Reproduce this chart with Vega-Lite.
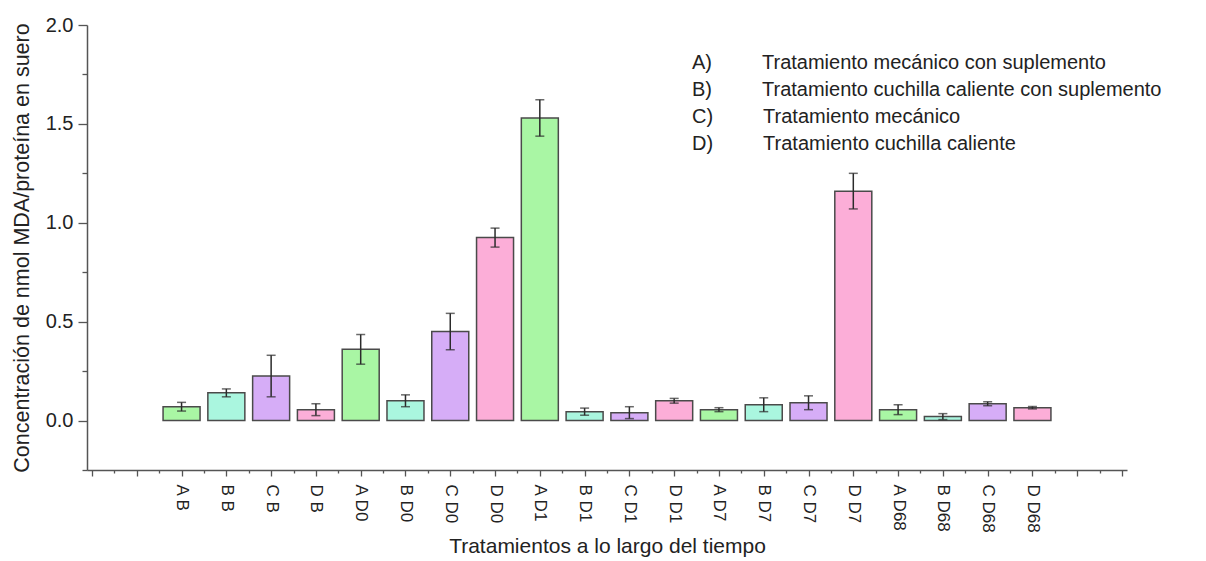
{
  "$schema": "https://vega.github.io/schema/vega-lite/v6.json",
  "width": 1040,
  "height": 445,
  "autosize": {"type": "none"},
  "padding": {"left": 87, "top": 25, "right": 79, "bottom": 91},
  "background": "white",
  "config": {
    "view": {"stroke": null},
    "font": "Liberation Sans",
    "axis": {"grid": false, "domainColor": "#555", "domainWidth": 1.5, "tickColor": "#555", "tickWidth": 1.3, "labelColor": "#222", "titleColor": "#222", "titleFontWeight": "normal", "labelFont": "Liberation Sans", "titleFont": "Liberation Sans"}
  },
  "data": {
    "values": [
      {"pos": 2, "label": "A B", "group": "A", "value": 0.07, "err": 0.022},
      {"pos": 3, "label": "B B", "group": "B", "value": 0.14, "err": 0.02},
      {"pos": 4, "label": "C B", "group": "C", "value": 0.225, "err": 0.105},
      {"pos": 5, "label": "D B", "group": "D", "value": 0.055, "err": 0.03},
      {"pos": 6, "label": "A D0", "group": "A", "value": 0.36, "err": 0.075},
      {"pos": 7, "label": "B D0", "group": "B", "value": 0.1, "err": 0.03},
      {"pos": 8, "label": "C D0", "group": "C", "value": 0.45, "err": 0.092},
      {"pos": 9, "label": "D D0", "group": "D", "value": 0.925, "err": 0.048},
      {"pos": 10, "label": "A D1", "group": "A", "value": 1.53, "err": 0.092},
      {"pos": 11, "label": "B D1", "group": "B", "value": 0.045, "err": 0.018},
      {"pos": 12, "label": "C D1", "group": "C", "value": 0.04, "err": 0.03},
      {"pos": 13, "label": "D D1", "group": "D", "value": 0.1, "err": 0.012},
      {"pos": 14, "label": "A D7", "group": "A", "value": 0.055, "err": 0.01},
      {"pos": 15, "label": "B D7", "group": "B", "value": 0.08, "err": 0.035},
      {"pos": 16, "label": "C D7", "group": "C", "value": 0.09, "err": 0.035},
      {"pos": 17, "label": "D D7", "group": "D", "value": 1.16, "err": 0.09},
      {"pos": 18, "label": "A D68", "group": "A", "value": 0.055, "err": 0.025},
      {"pos": 19, "label": "B D68", "group": "B", "value": 0.02, "err": 0.015},
      {"pos": 20, "label": "C D68", "group": "C", "value": 0.085, "err": 0.01},
      {"pos": 21, "label": "D D68", "group": "D", "value": 0.065, "err": 0.006}
    ]
  },
  "encoding": {
    "x": {
      "field": "pos", "type": "quantitative",
      "scale": {"domain": [0, 23], "nice": false, "zero": false},
      "axis": {
        "title": "Tratamientos a lo largo del tiempo",
        "titleFontSize": 21,
        "titlePadding": 3,
        "values": [0,0.5,1,1.5,2,2.5,3,3.5,4,4.5,5,5.5,6,6.5,7,7.5,8,8.5,9,9.5,10,10.5,11,11.5,12,12.5,13,13.5,14,14.5,15,15.5,16,16.5,17,17.5,18,18.5,19,19.5,20,20.5,21,21.5,22,22.5,23],
        "labelExpr": "['','','A B','B B','C B','D B','A D0','B D0','C D0','D D0','A D1','B D1','C D1','D D1','A D7','B D7','C D7','D D7','A D68','B D68','C D68','D D68','',''][datum.value] || ''",
        "labelAngle": 90,
        "labelAlign": "left",
        "labelBaseline": "middle",
        "labelFontSize": 17,
        "labelPadding": 8,
        "labelOverlap": false,
        "labelBound": false,
        "labelFlush": false,
        "tickSize": {"condition": {"test": "datum.value % 1 !== 0", "value": 3}, "value": 6}
      }
    }
  },
  "layer": [
    {
      "mark": {"type": "bar", "width": 37, "stroke": "#4a4a4a", "strokeWidth": 1.5},
      "encoding": {
        "y": {
          "field": "value", "type": "quantitative",
          "title": "Concentración de nmol MDA/proteína en suero",
          "scale": {"domain": [-0.25, 2.0], "nice": false, "zero": false},
          "axis": {
            "title": "Concentración de nmol MDA/proteína en suero",
            "titleFontSize": 21.5,
            "titlePadding": 12,
            "values": [-0.25,0,0.25,0.5,0.75,1,1.25,1.5,1.75,2],
            "labelExpr": "datum.value >= 0 && datum.value % 0.5 === 0 ? format(datum.value, '.1f') : ''",
            "labelFontSize": 20,
            "labelPadding": 5,
            "tickSize": {"condition": {"test": "datum.value % 0.5 !== 0", "value": 5}, "value": 9}
          }
        },
        "fill": {
          "field": "group", "type": "nominal",
          "scale": {"domain": ["A", "B", "C", "D"], "range": ["#a9f6a4", "#aaf6df", "#d6adf7", "#fcaed8"]},
          "legend": {
            "orient": "none",
            "legendX": 585,
            "legendY": 28,
            "title": null,
            "padding": 0,
            "labelExpr": "{'A':'A)\u00a0\u00a0\u00a0\u00a0\u00a0\u00a0\u00a0\u00a0\u00a0Tratamiento mecánico con suplemento','B':'B)\u00a0\u00a0\u00a0\u00a0\u00a0\u00a0\u00a0\u00a0\u00a0Tratamiento cuchilla caliente con suplemento','C':'C)\u00a0\u00a0\u00a0\u00a0\u00a0\u00a0\u00a0\u00a0\u00a0Tratamiento mecánico','D':'D)\u00a0\u00a0\u00a0\u00a0\u00a0\u00a0\u00a0\u00a0\u00a0Tratamiento cuchilla caliente'}[datum.label]",
            "labelFontSize": 20,
            "labelFont": "Liberation Sans",
            "labelColor": "#222",
            "labelLimit": 0,
            "labelOffset": 0,
            "rowPadding": 7,
            "symbolSize": 0,
            "symbolOpacity": 0,
            "symbolStrokeWidth": 0
          }
        }
      }
    },
    {
      "mark": {"type": "errorbar", "color": "#2b2b2b", "ticks": {"size": 9, "thickness": 1.5}, "rule": {"strokeWidth": 1.5}},
      "encoding": {
        "y": {"field": "value", "type": "quantitative", "title": "Concentración de nmol MDA/proteína en suero"},
        "yError": {"field": "err"}
      }
    }
  ]
}
